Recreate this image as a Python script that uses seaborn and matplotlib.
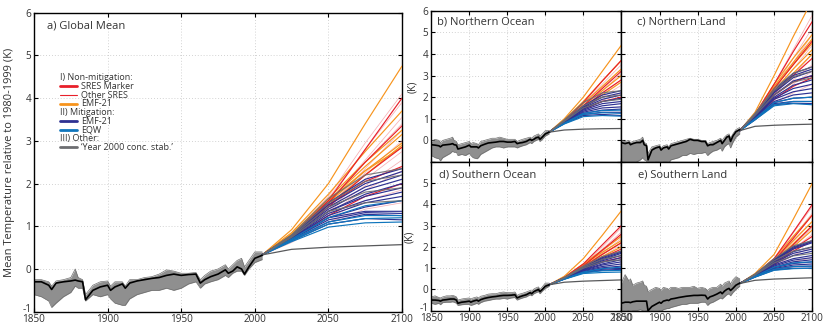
import numpy as np
import pandas as pd
import matplotlib
matplotlib.use("Agg")
import matplotlib.pyplot as plt
import matplotlib.transforms as mtransforms
import seaborn as sns
from matplotlib.lines import Line2D

sns.set_style("ticks")
plt.rcParams["font.family"] = ["Open Sans", "DejaVu Sans"]

# ---------------- data ----------------
H_YEARS = [1850, 1855, 1860, 1862, 1865, 1870, 1875, 1878, 1880, 1883, 1885, 1890, 1895, 1900,
           1902, 1905, 1910, 1912, 1915, 1920, 1925, 1930, 1935, 1940, 1945, 1950, 1955, 1960,
           1963, 1966, 1970, 1975, 1980, 1982, 1985, 1988, 1991, 1993, 1996, 2000, 2005]
SC_YEARS = [2005, 2025, 2050, 2075, 2100]

# a) Global mean
A_BLACK = [-0.30, -0.30, -0.38, -0.48, -0.33, -0.30, -0.28, -0.26, -0.28, -0.30, -0.72, -0.50, -0.42, -0.38,
           -0.50, -0.42, -0.35, -0.45, -0.33, -0.28, -0.25, -0.22, -0.20, -0.15, -0.12, -0.15, -0.13, -0.12,
           -0.33, -0.25, -0.18, -0.12, -0.02, -0.10, -0.05, 0.05, 0.00, -0.12, 0.05, 0.25, 0.32]
A_LO = [-0.60, -0.65, -0.75, -0.90, -0.80, -0.65, -0.55, -0.40, -0.45, -0.45, -0.75, -0.60, -0.65, -0.60,
        -0.70, -0.80, -0.85, -0.85, -0.70, -0.60, -0.55, -0.50, -0.50, -0.45, -0.50, -0.45, -0.35, -0.30,
        -0.45, -0.35, -0.30, -0.25, -0.15, -0.20, -0.10, -0.05, -0.05, -0.15, 0.00, 0.15, 0.22]
A_HI = [-0.25, -0.25, -0.30, -0.40, -0.28, -0.25, -0.20, 0.00, -0.20, -0.25, -0.60, -0.38, -0.30, -0.28,
        -0.40, -0.30, -0.30, -0.40, -0.25, -0.25, -0.20, -0.18, -0.12, -0.02, -0.05, -0.10, -0.10, -0.08,
        -0.25, -0.15, -0.05, 0.00, 0.10, 0.00, 0.10, 0.20, 0.25, 0.05, 0.20, 0.40, 0.40]
A_ORANGE = [[0.33, 0.92, 2.00, 3.40, 4.75], [0.33, 0.85, 1.75, 2.75, 3.70], [0.33, 0.82, 1.65, 2.50, 3.25],
            [0.33, 0.80, 1.60, 2.40, 3.15], [0.33, 0.78, 1.55, 2.30, 2.95], [0.33, 0.78, 1.50, 2.20, 2.90],
            [0.33, 0.80, 1.60, 2.30, 2.85]]
A_RED = [[0.33, 0.75, 1.60, 2.80, 4.00], [0.33, 0.78, 1.55, 2.50, 3.35], [0.33, 0.72, 1.45, 2.20, 2.85],
         [0.33, 0.75, 1.50, 2.05, 2.40], [0.33, 0.70, 1.25, 1.70, 2.00]]
A_PINK = [[0.33, 0.80, 1.70, 2.95, 4.10], [0.33, 0.78, 1.65, 2.80, 3.90], [0.33, 0.75, 1.55, 2.55, 3.55],
          [0.33, 0.76, 1.55, 2.50, 3.40], [0.33, 0.72, 1.45, 2.35, 3.25], [0.33, 0.74, 1.50, 2.25, 3.00],
          [0.33, 0.70, 1.40, 2.10, 2.75], [0.33, 0.70, 1.35, 1.95, 2.55], [0.33, 0.68, 1.30, 1.85, 2.30],
          [0.33, 0.65, 1.20, 1.60, 1.85], [0.33, 0.62, 1.10, 1.40, 1.55]]
A_BLUE = [[0.33, 0.78, 1.55, 2.10, 2.35], [0.33, 0.78, 1.50, 2.00, 2.28], [0.33, 0.76, 1.45, 1.92, 2.20],
          [0.33, 0.76, 1.40, 1.85, 2.10], [0.33, 0.74, 1.35, 1.75, 2.00], [0.33, 0.74, 1.35, 1.70, 1.90],
          [0.33, 0.72, 1.30, 1.60, 1.80], [0.33, 0.72, 1.25, 1.55, 1.70], [0.33, 0.70, 1.20, 1.45, 1.60],
          [0.33, 0.70, 1.20, 1.35, 1.35], [0.33, 0.70, 1.15, 1.32, 1.30], [0.33, 0.68, 1.10, 1.28, 1.25],
          [0.33, 0.66, 1.05, 1.18, 1.15]]
A_EQW = [[0.33, 0.70, 1.20, 1.48, 1.60], [0.33, 0.68, 1.10, 1.25, 1.25], [0.33, 0.66, 1.05, 1.18, 1.20],
         [0.33, 0.64, 0.98, 1.08, 1.10]]
A_GRAY = [[0.33, 0.80, 1.65, 2.20, 2.35], [0.33, 0.78, 1.55, 2.05, 2.20], [0.33, 0.76, 1.45, 1.80, 1.90],
          [0.33, 0.74, 1.35, 1.55, 1.60]]
A_STAB = [0.33, 0.46, 0.51, 0.54, 0.57]

# b) Northern Ocean
B_BLACK = [-0.20, -0.22, -0.25, -0.30, -0.22, -0.20, -0.18, -0.15, -0.20, -0.22, -0.40, -0.35, -0.30, -0.22,
           -0.30, -0.30, -0.30, -0.35, -0.25, -0.18, -0.12, -0.10, -0.08, -0.05, -0.05, -0.08, -0.08, -0.05,
           -0.15, -0.12, -0.10, -0.05, 0.05, 0.00, 0.05, 0.12, 0.15, 0.05, 0.15, 0.30, 0.38]
B_LO = [-0.70, -0.80, -0.85, -0.95, -0.80, -0.70, -0.60, -0.50, -0.55, -0.55, -0.70, -0.65, -0.70, -0.60,
        -0.70, -0.80, -0.85, -0.80, -0.65, -0.55, -0.45, -0.35, -0.30, -0.30, -0.35, -0.30, -0.30, -0.30,
        -0.35, -0.30, -0.25, -0.20, -0.10, -0.15, -0.05, 0.00, 0.05, -0.05, 0.05, 0.20, 0.30]
B_HI = [-0.05, 0.05, 0.00, -0.10, 0.00, 0.05, 0.10, 0.15, 0.00, -0.05, -0.20, -0.15, -0.10, -0.05,
        -0.15, -0.10, -0.15, -0.20, -0.05, 0.00, 0.05, 0.10, 0.10, 0.15, 0.10, 0.05, 0.05, 0.05,
        -0.05, 0.00, 0.05, 0.10, 0.15, 0.10, 0.20, 0.25, 0.30, 0.20, 0.30, 0.45, 0.45]
B_ORANGE = [[0.38, 1.00, 2.00, 3.20, 4.40], [0.38, 0.95, 1.80, 2.75, 3.70], [0.38, 0.92, 1.70, 2.50, 3.30],
            [0.38, 0.90, 1.60, 2.30, 3.00], [0.38, 0.88, 1.50, 2.10, 2.70]]
B_RED = [[0.38, 0.90, 1.75, 2.75, 3.70], [0.38, 0.88, 1.60, 2.40, 3.20], [0.38, 0.85, 1.50, 2.20, 2.80],
         [0.38, 0.85, 1.45, 1.80, 2.00]]
B_PINK = [[0.38, 0.90, 1.70, 2.60, 3.50], [0.38, 0.88, 1.60, 2.45, 3.30], [0.38, 0.85, 1.55, 2.30, 3.10],
          [0.38, 0.85, 1.50, 2.15, 2.80], [0.38, 0.82, 1.45, 2.00, 2.55], [0.38, 0.80, 1.35, 1.85, 2.20]]
B_BLUE = [[0.38, 0.90, 1.60, 2.10, 2.30], [0.38, 0.88, 1.55, 2.00, 2.20], [0.38, 0.88, 1.50, 1.90, 2.10],
          [0.38, 0.86, 1.45, 1.80, 1.95], [0.38, 0.85, 1.40, 1.70, 1.80], [0.38, 0.84, 1.35, 1.60, 1.70],
          [0.38, 0.83, 1.30, 1.50, 1.55], [0.38, 0.82, 1.25, 1.40, 1.45], [0.38, 0.80, 1.20, 1.30, 1.30],
          [0.38, 0.78, 1.15, 1.20, 1.15]]
B_EQW = [[0.38, 0.80, 1.25, 1.38, 1.40], [0.38, 0.78, 1.20, 1.28, 1.25], [0.38, 0.76, 1.10, 1.15, 1.12]]
B_GRAY = [[0.38, 0.95, 1.75, 2.20, 2.30], [0.38, 0.90, 1.60, 2.00, 2.10], [0.38, 0.88, 1.50, 1.80, 1.90]]
B_STAB = [0.38, 0.48, 0.52, 0.54, 0.55]

# c) Northern Land
C_BLACK = [-0.10, -0.15, -0.10, -0.20, -0.15, -0.10, -0.10, 0.00, -0.20, -0.25, -0.90, -0.45, -0.35, -0.30,
           -0.45, -0.35, -0.30, -0.40, -0.25, -0.20, -0.15, -0.10, -0.05, 0.05, 0.00, 0.00, -0.05, -0.05,
           -0.25, -0.20, -0.20, -0.10, 0.00, -0.15, 0.00, 0.15, 0.20, -0.05, 0.20, 0.40, 0.50]
C_LO = [-1.10, -1.10, -1.10, -1.20, -1.10, -1.00, -0.90, -0.80, -0.90, -0.95, -1.20, -1.10, -1.00, -1.00,
        -1.10, -1.00, -1.00, -1.05, -0.90, -0.85, -0.80, -0.70, -0.70, -0.60, -0.65, -0.60, -0.60, -0.55,
        -0.70, -0.60, -0.50, -0.45, -0.35, -0.50, -0.30, -0.20, -0.15, -0.35, -0.10, 0.15, 0.30]
C_HI = [0.00, -0.05, 0.00, -0.10, -0.05, 0.00, 0.05, 0.15, -0.10, -0.15, -0.60, -0.30, -0.25, -0.20,
        -0.35, -0.25, -0.20, -0.30, -0.15, -0.10, -0.05, 0.00, 0.05, 0.10, 0.05, 0.05, 0.00, 0.00,
        -0.15, -0.10, -0.05, 0.00, 0.10, 0.00, 0.15, 0.25, 0.30, 0.10, 0.30, 0.50, 0.60]
C_ORANGE = [[0.45, 1.30, 3.00, 4.80, 6.50], [0.45, 1.20, 2.60, 3.80, 4.90], [0.45, 1.20, 2.50, 3.60, 4.70],
            [0.45, 1.15, 2.40, 3.50, 4.50], [0.45, 1.10, 2.30, 3.30, 4.20], [0.45, 1.10, 2.20, 3.10, 4.00]]
C_RED = [[0.45, 1.20, 2.60, 4.10, 5.50], [0.45, 1.15, 2.40, 3.50, 4.60], [0.45, 1.10, 2.20, 3.00, 3.80],
         [0.45, 1.10, 2.10, 2.70, 3.00], [0.45, 1.05, 1.90, 2.50, 2.90]]
C_PINK = [[0.45, 1.20, 2.60, 4.20, 5.80], [0.45, 1.15, 2.45, 3.80, 5.20], [0.45, 1.15, 2.35, 3.60, 4.90],
          [0.45, 1.10, 2.20, 3.30, 4.40], [0.45, 1.10, 2.10, 3.00, 4.00], [0.45, 1.05, 2.00, 2.80, 3.50],
          [0.45, 1.00, 1.85, 2.60, 3.20], [0.45, 0.95, 1.70, 2.20, 2.60]]
C_BLUE = [[0.45, 1.20, 2.30, 3.10, 3.40], [0.45, 1.20, 2.25, 3.00, 3.30], [0.45, 1.15, 2.20, 2.90, 3.20],
          [0.45, 1.15, 2.10, 2.75, 3.00], [0.45, 1.10, 2.00, 2.55, 2.80], [0.45, 1.10, 1.95, 2.40, 2.60],
          [0.45, 1.05, 1.90, 2.25, 2.40], [0.45, 1.05, 1.80, 2.10, 2.20], [0.45, 1.00, 1.75, 1.95, 2.00],
          [0.45, 1.00, 1.70, 1.80, 1.80], [0.45, 0.95, 1.65, 1.72, 1.70]]
C_EQW = [[0.45, 1.00, 1.75, 1.95, 2.00], [0.45, 0.98, 1.65, 1.80, 1.80], [0.45, 0.95, 1.60, 1.70, 1.65]]
C_GRAY = [[0.45, 1.25, 2.40, 3.10, 3.40], [0.45, 1.20, 2.30, 2.95, 3.20], [0.45, 1.15, 2.10, 2.70, 2.90]]
C_STAB = [0.45, 0.65, 0.70, 0.73, 0.75]

# d) Southern Ocean
D_BLACK = [-0.50, -0.50, -0.52, -0.55, -0.50, -0.48, -0.45, -0.45, -0.45, -0.50, -0.65, -0.60, -0.58, -0.55,
           -0.60, -0.55, -0.50, -0.55, -0.48, -0.42, -0.38, -0.35, -0.33, -0.30, -0.28, -0.28, -0.27, -0.25,
           -0.40, -0.35, -0.30, -0.25, -0.15, -0.20, -0.10, -0.05, 0.00, -0.10, 0.00, 0.15, 0.22]
D_LO = [-0.65, -0.70, -0.65, -0.72, -0.62, -0.60, -0.60, -0.58, -0.60, -0.65, -0.75, -0.72, -0.70, -0.70,
        -0.75, -0.72, -0.65, -0.70, -0.62, -0.55, -0.52, -0.48, -0.45, -0.45, -0.42, -0.45, -0.40, -0.38,
        -0.50, -0.45, -0.40, -0.35, -0.25, -0.30, -0.20, -0.15, -0.10, -0.20, -0.08, 0.05, 0.15]
D_HI = [-0.35, -0.30, -0.38, -0.40, -0.35, -0.30, -0.30, -0.28, -0.30, -0.35, -0.50, -0.45, -0.42, -0.40,
        -0.45, -0.40, -0.35, -0.40, -0.32, -0.28, -0.22, -0.20, -0.20, -0.15, -0.12, -0.15, -0.15, -0.12,
        -0.28, -0.22, -0.18, -0.12, -0.05, -0.08, 0.02, 0.08, 0.12, 0.00, 0.12, 0.30, 0.30]
D_ORANGE = [[0.22, 0.62, 1.45, 2.55, 3.70], [0.22, 0.58, 1.20, 1.85, 2.50], [0.22, 0.56, 1.15, 1.75, 2.30],
            [0.22, 0.55, 1.10, 1.65, 2.20], [0.22, 0.54, 1.05, 1.55, 2.00]]
D_RED = [[0.22, 0.56, 1.20, 2.10, 3.00], [0.22, 0.55, 1.10, 1.85, 2.60], [0.22, 0.54, 1.05, 1.65, 2.20],
         [0.22, 0.53, 1.00, 1.50, 1.90], [0.22, 0.52, 0.95, 1.30, 1.50]]
D_PINK = [[0.22, 0.56, 1.15, 2.00, 2.90], [0.22, 0.55, 1.10, 1.90, 2.70], [0.22, 0.55, 1.10, 1.80, 2.50],
          [0.22, 0.54, 1.05, 1.70, 2.40], [0.22, 0.53, 1.00, 1.55, 2.10], [0.22, 0.52, 0.95, 1.40, 1.80]]
D_BLUE = [[0.22, 0.55, 1.05, 1.50, 1.80], [0.22, 0.55, 1.02, 1.45, 1.75], [0.22, 0.54, 1.00, 1.40, 1.70],
          [0.22, 0.54, 0.98, 1.35, 1.60], [0.22, 0.53, 0.95, 1.28, 1.50], [0.22, 0.52, 0.92, 1.20, 1.40],
          [0.22, 0.52, 0.90, 1.15, 1.30], [0.22, 0.51, 0.88, 1.08, 1.20], [0.22, 0.50, 0.85, 1.02, 1.10],
          [0.22, 0.50, 0.82, 0.95, 1.00], [0.22, 0.49, 0.80, 0.90, 0.95]]
D_EQW = [[0.22, 0.50, 0.82, 0.98, 1.05], [0.22, 0.49, 0.78, 0.88, 0.90], [0.22, 0.48, 0.75, 0.80, 0.82]]
D_GRAY = [[0.22, 0.56, 1.10, 1.55, 1.80], [0.22, 0.55, 1.05, 1.42, 1.60], [0.22, 0.54, 1.00, 1.30, 1.40]]
D_STAB = [0.22, 0.34, 0.39, 0.42, 0.45]

# e) Southern Land
E_BLACK = [-0.65, -0.60, -0.60, -0.62, -0.58, -0.55, -0.55, -0.55, -0.55, -0.55, -1.00, -0.80, -0.70, -0.60,
           -0.65, -0.55, -0.50, -0.52, -0.45, -0.42, -0.38, -0.35, -0.32, -0.30, -0.28, -0.28, -0.27, -0.28,
           -0.45, -0.35, -0.30, -0.22, -0.12, -0.20, -0.08, 0.00, 0.05, -0.05, 0.05, 0.20, 0.30]
E_LO = [-1.10, -1.05, -1.00, -1.10, -1.00, -1.00, -0.95, -1.00, -1.05, -1.00, -1.30, -1.20, -1.10, -1.00,
        -1.05, -0.95, -0.90, -0.90, -0.85, -0.80, -0.75, -0.70, -0.70, -0.65, -0.65, -0.65, -0.60, -0.60,
        -0.75, -0.65, -0.60, -0.50, -0.40, -0.45, -0.35, -0.25, -0.20, -0.30, -0.15, 0.00, 0.15]
E_HI = [0.30, 0.70, 0.40, 0.50, 0.20, 0.30, 0.35, 0.40, 0.20, 0.15, -0.10, 0.00, 0.10, 0.05,
        -0.05, 0.10, 0.05, 0.00, 0.10, 0.10, 0.05, 0.10, 0.10, 0.10, 0.15, 0.05, 0.10, 0.05,
        -0.05, 0.05, 0.10, 0.10, 0.25, 0.15, 0.30, 0.35, 0.40, 0.25, 0.45, 0.60, 0.50]
E_ORANGE = [[0.28, 0.75, 1.65, 3.30, 5.00], [0.28, 0.70, 1.45, 2.50, 3.50], [0.28, 0.68, 1.35, 2.30, 3.20],
            [0.28, 0.66, 1.30, 2.15, 3.00], [0.28, 0.65, 1.25, 2.00, 2.80]]
E_RED = [[0.28, 0.70, 1.45, 2.70, 4.00], [0.28, 0.68, 1.35, 2.40, 3.50], [0.28, 0.66, 1.25, 2.10, 3.00],
         [0.28, 0.65, 1.20, 1.90, 2.50], [0.28, 0.64, 1.15, 1.80, 2.30]]
E_PINK = [[0.28, 0.70, 1.40, 2.65, 3.90], [0.28, 0.68, 1.35, 2.45, 3.60], [0.28, 0.67, 1.30, 2.25, 3.20],
          [0.28, 0.66, 1.25, 2.05, 2.90], [0.28, 0.65, 1.20, 1.90, 2.60], [0.28, 0.62, 1.10, 1.60, 2.00],
          [0.28, 0.60, 1.00, 1.30, 1.50]]
E_BLUE = [[0.28, 0.70, 1.40, 2.00, 2.30], [0.28, 0.70, 1.38, 1.95, 2.25], [0.28, 0.68, 1.35, 1.90, 2.20],
          [0.28, 0.68, 1.30, 1.78, 2.00], [0.28, 0.67, 1.25, 1.70, 1.90], [0.28, 0.66, 1.20, 1.60, 1.80],
          [0.28, 0.65, 1.15, 1.45, 1.60], [0.28, 0.64, 1.10, 1.38, 1.50], [0.28, 0.63, 1.05, 1.30, 1.40],
          [0.28, 0.62, 1.02, 1.22, 1.30], [0.28, 0.60, 0.98, 1.15, 1.20], [0.28, 0.60, 0.95, 1.08, 1.10],
          [0.28, 0.58, 0.92, 1.00, 1.00]]
E_EQW = [[0.28, 0.62, 1.05, 1.25, 1.30], [0.28, 0.60, 0.95, 1.08, 1.10], [0.28, 0.58, 0.90, 0.98, 1.00]]
E_GRAY = [[0.28, 0.72, 1.45, 2.05, 2.30], [0.28, 0.70, 1.35, 1.80, 2.00], [0.28, 0.68, 1.25, 1.58, 1.70]]
E_STAB = [0.28, 0.43, 0.49, 0.52, 0.55]

TITLES = ["a) Global Mean", "b) Northern Ocean", "c) Northern Land", "d) Southern Ocean", "e) Southern Land"]
X_TICKS = [1850, 1900, 1950, 2000, 2050, 2100]
Y_TICKS = [-1, 0, 1, 2, 3, 4, 5, 6]

# ---------------- styles ----------------
C_ORANGE_COL = "#f7941d"
C_RED_COL = "#e8202a"
C_PINK_COL = "#f28f96"
C_NAVY_COL = "#2e3192"
C_EQW_COL = "#0f75bc"
C_GRAY_COL = "#6d6e71"
C_STAB_COL = "#58595b"
C_BAND = "#8f8f8f"
TXT = "#333333"
TICK_FS = 7.2


def to_long(rows):
    recs = []
    for i, row in enumerate(rows):
        for yr, v in zip(SC_YEARS, row):
            recs.append({"run": i, "year": yr, "value": v})
    return pd.DataFrame(recs)


def draw_panel(ax, black, lo, hi, pink, red, orange, blue, eqw, gray, stab):
    ax.fill_between(H_YEARS, lo, hi, color=C_BAND, lw=0, zorder=2)
    ax.plot(H_YEARS, lo, color="#6f6f6f", lw=0.5, zorder=2)
    ax.plot(H_YEARS, hi, color="#6f6f6f", lw=0.5, zorder=2)
    groups = [(pink, C_PINK_COL, 0.55, 0.7),
              (orange, C_ORANGE_COL, 0.85, 1.0),
              (red, C_RED_COL, 0.85, 1.0),
              (blue, C_NAVY_COL, 0.85, 1.0),
              (eqw, C_EQW_COL, 0.85, 1.0),
              (gray, C_GRAY_COL, 0.85, 0.9)]
    for rows, col, lw, al in groups:
        df = to_long(rows)
        sns.lineplot(data=df, x="year", y="value", units="run", estimator=None,
                     color=col, lw=lw, alpha=al, ax=ax, legend=False, zorder=3)
    sns.lineplot(x=SC_YEARS, y=stab, color=C_STAB_COL, lw=0.9, ax=ax, zorder=3)
    sns.lineplot(x=H_YEARS, y=black, color="black", lw=1.2, ax=ax, zorder=4)
    ax.set_xlim(1850, 2100)
    ax.set_ylim(-1, 6)
    ax.set_xticks(X_TICKS)
    ax.set_yticks(Y_TICKS)
    ax.grid(True, ls=(0, (1, 2.5)), color="#c4c4c4", lw=0.6)
    ax.set_axisbelow(True)
    ax.tick_params(direction="in", top=True, right=True, length=3, width=0.8,
                   labelsize=TICK_FS, colors="black", labelcolor=TXT)
    ax.tick_params(axis="x", pad=1.5)
    ax.tick_params(axis="y", pad=2)
    for s in ax.spines.values():
        s.set_linewidth(1.0)
        s.set_color("black")
    ax.set_xlabel("")
    ax.set_ylabel("")


fig = plt.figure(figsize=(8.25, 3.25), dpi=100)
W, H = 825.0, 325.0


def axes_px(x0, y0, x1, y1):
    return fig.add_axes([x0 / W, 1 - y1 / H, (x1 - x0) / W, (y1 - y0) / H])


ax_a = axes_px(34, 12.7, 402, 311.7)
ax_b = axes_px(431.3, 10.7, 621.3, 162)
ax_c = axes_px(621.3, 10.7, 812.3, 162)
ax_d = axes_px(431.3, 162, 621.3, 310.7)
ax_e = axes_px(621.3, 162, 812.3, 310.7)

draw_panel(ax_a, A_BLACK, A_LO, A_HI, A_PINK, A_RED, A_ORANGE, A_BLUE, A_EQW, A_GRAY, A_STAB)
draw_panel(ax_b, B_BLACK, B_LO, B_HI, B_PINK, B_RED, B_ORANGE, B_BLUE, B_EQW, B_GRAY, B_STAB)
draw_panel(ax_c, C_BLACK, C_LO, C_HI, C_PINK, C_RED, C_ORANGE, C_BLUE, C_EQW, C_GRAY, C_STAB)
draw_panel(ax_d, D_BLACK, D_LO, D_HI, D_PINK, D_RED, D_ORANGE, D_BLUE, D_EQW, D_GRAY, D_STAB)
draw_panel(ax_e, E_BLACK, E_LO, E_HI, E_PINK, E_RED, E_ORANGE, E_BLUE, E_EQW, E_GRAY, E_STAB)

# tick label visibility
ax_a.set_yticklabels([str(t) for t in Y_TICKS])
ax_b.set_yticklabels([""] + [str(t) for t in Y_TICKS[1:]])
ax_d.set_yticklabels([str(t) for t in Y_TICKS[:-1]] + [""])
for ax in (ax_b, ax_c):
    ax.tick_params(labelbottom=False)
for ax in (ax_c, ax_e):
    ax.tick_params(labelleft=False)

# lift the bottom "-1" labels slightly so they sit above the year labels
lift = mtransforms.ScaledTranslation(0, 3 / 72.0, fig.dpi_scale_trans)
for ax in (ax_a, ax_d):
    lbl = ax.get_yticklabels()[0]
    lbl.set_transform(lbl.get_transform() + lift)

ax_a.set_ylabel("Mean Temperature relative to 1980-1999 (K)", fontsize=8, color=TXT, labelpad=5)
ax_b.set_ylabel("(K)", fontsize=7.5, color=TXT, labelpad=3)
ax_d.set_ylabel("(K)", fontsize=7.5, color=TXT, labelpad=3)

# titles
ax_a.text(0.035, 0.957, TITLES[0], transform=ax_a.transAxes, fontsize=8, color=TXT, va="center")
ax_b.text(0.028, 0.925, TITLES[1], transform=ax_b.transAxes, fontsize=8, color=TXT, va="center")
ax_c.text(0.08, 0.925, TITLES[2], transform=ax_c.transAxes, fontsize=8, color=TXT, va="center")
ax_d.text(0.04, 0.913, TITLES[3], transform=ax_d.transAxes, fontsize=8, color=TXT, va="center")
ax_e.text(0.086, 0.913, TITLES[4], transform=ax_e.transAxes, fontsize=8, color=TXT, va="center")

# legend (manual, in axes fraction of panel a)
LEG_ROWS = [("I) Non-mitigation:", None, 0),
            ("SRES Marker", C_RED_COL, 2.0),
            ("Other SRES", C_RED_COL, 0.8),
            ("EMF-21", C_ORANGE_COL, 2.0),
            ("II) Mitigation:", None, 0),
            ("EMF-21", C_NAVY_COL, 2.0),
            ("EQW", C_EQW_COL, 2.0),
            ("III) Other:", None, 0),
            ("\u2018Year 2000 conc. stab.\u2019", C_GRAY_COL, 2.0)]
y0 = (311.7 - 77.7) / 299.0
dy = 8.67 / 299.0
xh = (60 - 34) / 368.0
xl1 = (77 - 34) / 368.0
xt = (81 - 34) / 368.0
for i, (lab, col, lw) in enumerate(LEG_ROWS):
    yy = y0 - i * dy
    if col is None:
        ax_a.text(xh, yy, lab, transform=ax_a.transAxes, fontsize=6.5, color=TXT, va="center")
    else:
        ax_a.add_line(Line2D([xh, xl1], [yy, yy], transform=ax_a.transAxes, color=col, lw=lw))
        ax_a.text(xt, yy, lab, transform=ax_a.transAxes, fontsize=6.5, color=TXT, va="center")

fig.savefig("out.png", dpi=100)
